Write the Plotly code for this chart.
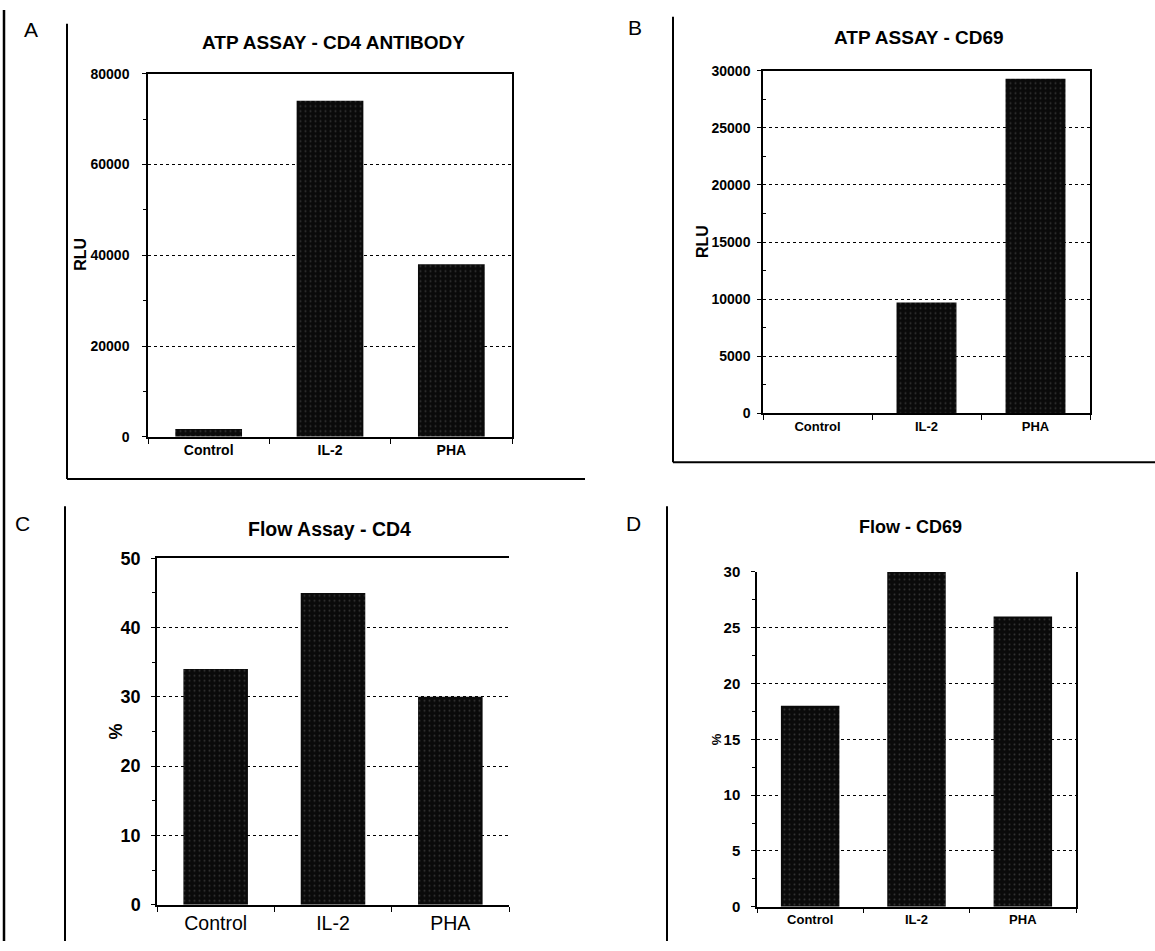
import plotly.graph_objects as go

W, H = 1155, 951

categories = ["Control", "IL-2", "PHA"]
atp_cd4 = [1700, 74000, 38000]
atp_cd69 = [0, 9700, 29300]
flow_cd4 = [34, 45, 30]
flow_cd69 = [18, 30, 26]

titles = ["ATP ASSAY - CD4 ANTIBODY", "ATP ASSAY - CD69", "Flow Assay - CD4", "Flow - CD69"]
letters = ["A", "B", "C", "D"]
ytitles = ["RLU", "RLU", "%", "%"]

FONT = "Liberation Sans, Arial, sans-serif"


def px(x):
    return x / W


def py(y):
    return 1 - y / H


fig = go.Figure()

panels = [
    dict(vals=atp_cd4, xd=(148, 512), yd=(65, 436), ymax=80000, dtick=20000, minor=10000,
         top=True, right=True, ytf=14, so=10, xtf=dict(size=14, weight="bold"), minor_in=False),
    dict(vals=atp_cd69, xd=(763, 1090), yd=(62, 412), ymax=30000, dtick=5000, minor=2500,
         top=True, right=True, ytf=14, so=4, xtf=dict(size=13, weight="bold"), minor_in=True),
    dict(vals=flow_cd4, xd=(157, 509), yd=(560, 914), ymax=50, dtick=10, minor=5,
         top=True, right=False, ytf=18, so=7, xtf=dict(size=19.5, weight="normal"), minor_in=False),
    dict(vals=flow_cd69, xd=(757, 1076), yd=(574, 916), ymax=30, dtick=5, minor=2.5,
         top=False, right=True, ytf=15, so=8, xtf=dict(size=13, weight="bold"), minor_in=False),
]

for i, p in enumerate(panels):
    n = "" if i == 0 else str(i + 1)
    xa, ya = "x" + n, "y" + n
    fig.add_trace(go.Bar(
        x=categories, y=p["vals"], xaxis=xa, yaxis=ya, width=0.55,
        marker=dict(color="#0a0a0a", line=dict(width=0),
                    pattern=dict(shape=".", fgcolor="#5a5a5a", bgcolor="#0a0a0a",
                                 size=5, solidity=0.12)),
        showlegend=False, hoverinfo="x+y",
    ))
    last = (i == 3)
    fig.update_layout(**{
        "xaxis" + n: dict(
            domain=[px(p["xd"][0]), px(p["xd"][1])], anchor=ya, type="category",
            showline=True, linecolor="black", linewidth=1.5, mirror=p["top"],
            ticks="outside", tickson="boundaries", ticklen=5, tickcolor="black",
            showgrid=False, tickfont=dict(family=FONT, color="black", **p["xtf"]),
            range=[-0.5, 2.5], fixedrange=True,
        ),
        "yaxis" + n: dict(
            domain=[py(p["yd"][1]), py(p["yd"][0])], anchor=xa,
            range=[0, p["ymax"]], dtick=p["dtick"], tick0=0, tickformat="d",
            showline=True, linecolor="black", linewidth=1.5, mirror=p["right"],
            ticks="outside", ticklen=4, tickcolor="black", ticklabelstandoff=p["so"],
            showgrid=not last, gridcolor="black", gridwidth=1, griddash="dot",
            zeroline=False,
            tickfont=dict(family=FONT, size=p["ytf"], color="black", weight="bold"),
            minor=dict(dtick=p["minor"], ticks="inside" if p["minor_in"] else "outside",
                       ticklen=3, tickcolor="black", showgrid=False),
            fixedrange=True,
        ),
    })

# Panel D: gridlines only at interior ticks (no line at the top, 30)
fig.add_trace(go.Bar(x=categories, y=[None, None, None], xaxis="x4", yaxis="y5",
                     showlegend=False, hoverinfo="skip"))
fig.update_layout(yaxis5=dict(
    domain=[py(916), py(574)], anchor="x4", overlaying="y4", range=[0, 30],
    tickvals=[5, 10, 15, 20, 25], showticklabels=False, ticks="",
    showgrid=True, gridcolor="black", gridwidth=1, griddash="dot",
    zeroline=False, showline=False, fixedrange=True,
))

title_pos = [(333, 33), (919, 28), (329, 530), (910, 528)]
title_size = [19, 19, 19.5, 18]
letter_pos = [(31, 20), (635, 18), (22, 525), (633, 525)]
ytitle_pos = [(81, 250), (702, 237), (116, 737), (716, 745)]
ytitle_size = [16, 16, 18, 13]
annotations = []
for i in range(4):
    annotations.append(dict(x=px(title_pos[i][0]), y=py(title_pos[i][1]), xref="paper", yref="paper",
                            text=titles[i], showarrow=False, xanchor="center", yanchor="middle",
                            font=dict(family=FONT, size=title_size[i], color="black", weight="bold")))
    annotations.append(dict(x=px(letter_pos[i][0]), y=py(letter_pos[i][1]), xref="paper", yref="paper",
                            text=letters[i], showarrow=False, xanchor="center", yanchor="middle",
                            font=dict(family=FONT, size=21, color="black")))
    annotations.append(dict(x=px(ytitle_pos[i][0]), y=py(ytitle_pos[i][1]), xref="paper", yref="paper",
                            text=ytitles[i], showarrow=False, xanchor="center", yanchor="middle",
                            textangle=-90,
                            font=dict(family=FONT, size=ytitle_size[i], color="black", weight="bold")))

frame = [
    (4, 0, 4, 951, 2.5),
    (67, 14, 67, 479, 2),
    (67, 479, 585, 479, 2),
    (673, 7, 673, 462, 2),
    (673, 462, 1155, 462, 2),
    (65, 507, 65, 951, 2),
    (667, 507, 667, 951, 2),
]
shapes = [dict(type="line", xref="paper", yref="paper", x0=px(a), y0=py(b), x1=px(c), y1=py(d),
               line=dict(color="black", width=w)) for a, b, c, d, w in frame]

fig.update_layout(
    width=W, height=H, margin=dict(l=0, r=0, t=0, b=0),
    paper_bgcolor="white", plot_bgcolor="white",
    annotations=annotations, shapes=shapes, bargap=0.45, barmode="overlay",
    font=dict(family=FONT, color="black"),
)

fig.write_html("out.html", config={"displayModeBar": False},
               post_script="document.body.style.margin='0px';")
